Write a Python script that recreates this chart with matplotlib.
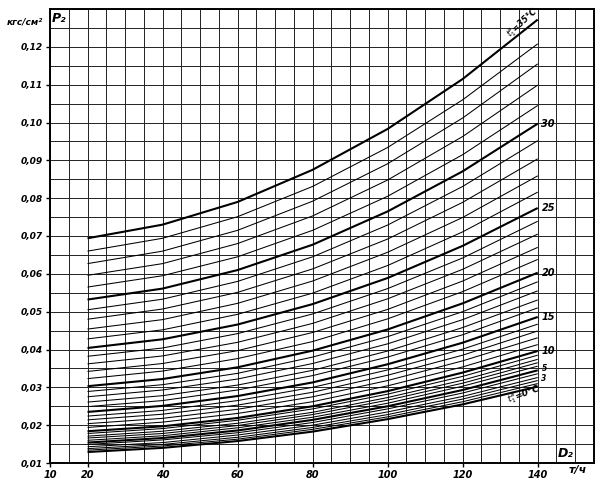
import numpy as np
import matplotlib.pyplot as plt

# flow D2 (t/h) where each curve was read, and curve temperatures t1 (deg C)
flow = [20, 40, 60, 80, 100, 120, 140]
temps = list(range(36))

# pressure p2 (kgf/cm2) for t1 = 0..35, one list per flow value
p_20 = [0.0129, 0.0134, 0.0138, 0.0143, 0.0149, 0.0154, 0.0160, 0.0166, 0.0171, 0.0178,
        0.0184, 0.0194, 0.0204, 0.0214, 0.0224, 0.0235, 0.0249, 0.0261, 0.0275, 0.0289,
        0.0303, 0.0323, 0.0342, 0.0362, 0.0382, 0.0404, 0.0428, 0.0454, 0.0480, 0.0505,
        0.0532, 0.0565, 0.0596, 0.0627, 0.0660, 0.0694]
p_40 = [0.0140, 0.0145, 0.0149, 0.0154, 0.0161, 0.0166, 0.0172, 0.0178, 0.0184, 0.0191,
        0.0197, 0.0208, 0.0218, 0.0229, 0.0239, 0.0251, 0.0265, 0.0278, 0.0293, 0.0307,
        0.0322, 0.0343, 0.0363, 0.0383, 0.0404, 0.0427, 0.0452, 0.0479, 0.0507, 0.0533,
        0.0561, 0.0595, 0.0627, 0.0660, 0.0694, 0.0730]
p_60 = [0.0158, 0.0163, 0.0168, 0.0174, 0.0180, 0.0186, 0.0193, 0.0199, 0.0205, 0.0213,
        0.0219, 0.0231, 0.0242, 0.0253, 0.0265, 0.0277, 0.0293, 0.0306, 0.0322, 0.0337,
        0.0353, 0.0376, 0.0397, 0.0419, 0.0442, 0.0466, 0.0493, 0.0522, 0.0551, 0.0580,
        0.0610, 0.0645, 0.0680, 0.0715, 0.0751, 0.0790]
p_80 = [0.0183, 0.0189, 0.0194, 0.0200, 0.0207, 0.0214, 0.0221, 0.0228, 0.0234, 0.0243,
        0.0250, 0.0262, 0.0275, 0.0287, 0.0300, 0.0313, 0.0331, 0.0345, 0.0363, 0.0380,
        0.0397, 0.0421, 0.0445, 0.0469, 0.0494, 0.0520, 0.0549, 0.0581, 0.0613, 0.0645,
        0.0677, 0.0715, 0.0753, 0.0792, 0.0831, 0.0875]
p_100 = [0.0216, 0.0222, 0.0228, 0.0235, 0.0243, 0.0250, 0.0258, 0.0266, 0.0273, 0.0282,
         0.0290, 0.0304, 0.0318, 0.0332, 0.0346, 0.0361, 0.0380, 0.0396, 0.0415, 0.0434,
         0.0453, 0.0481, 0.0506, 0.0534, 0.0561, 0.0589, 0.0622, 0.0657, 0.0692, 0.0729,
         0.0765, 0.0805, 0.0848, 0.0891, 0.0934, 0.0983]
p_120 = [0.0255, 0.0262, 0.0269, 0.0276, 0.0285, 0.0293, 0.0303, 0.0311, 0.0319, 0.0329,
         0.0339, 0.0354, 0.0370, 0.0385, 0.0401, 0.0418, 0.0439, 0.0458, 0.0479, 0.0500,
         0.0522, 0.0553, 0.0581, 0.0612, 0.0642, 0.0674, 0.0711, 0.0749, 0.0789, 0.0831,
         0.0871, 0.0915, 0.0963, 0.1012, 0.1060, 0.1115]
p_140 = [0.0302, 0.0310, 0.0318, 0.0326, 0.0336, 0.0345, 0.0356, 0.0365, 0.0374, 0.0385,
         0.0396, 0.0413, 0.0431, 0.0449, 0.0467, 0.0486, 0.0510, 0.0531, 0.0555, 0.0579,
         0.0603, 0.0638, 0.0670, 0.0705, 0.0739, 0.0774, 0.0816, 0.0859, 0.0904, 0.0952,
         0.0997, 0.1045, 0.1099, 0.1155, 0.1208, 0.1272]

bold_temps = [0, 5, 10, 15, 20, 25, 30, 35]
end_label_temps = [30, 25, 20, 15, 10]
end_labels = ['30', '25', '20', '15', '10']

x_ticks = [10, 20, 40, 60, 80, 100, 120, 140]
y_ticks = [0.01, 0.02, 0.03, 0.04, 0.05, 0.06, 0.07, 0.08, 0.09, 0.10, 0.11, 0.12]
y_tick_labels = ['0,01', '0,02', '0,03', '0,04', '0,05', '0,06',
                 '0,07', '0,08', '0,09', '0,10', '0,11', '0,12']

font = dict(fontweight='bold', fontstyle='italic', family='DejaVu Sans')
plt.rcParams['mathtext.fontset'] = 'dejavusans'

fig = plt.figure(figsize=(6.04, 4.88), dpi=100)
ax = fig.add_axes([50 / 604, 25 / 488, 544 / 604, 454 / 488])

columns = [p_20, p_40, p_60, p_80, p_100, p_120, p_140]
for i, t in enumerate(temps):
    vals = [col[i] for col in columns]
    lw = 1.5 if t in bold_temps else 0.75
    ax.plot(flow, vals, color='black', lw=lw, solid_capstyle='butt',
            solid_joinstyle='round', zorder=3)

ax.set_xlim(10, 155)
ax.set_ylim(0.01, 0.13)

# grid every 5 t/h and every 0.005 kgf/cm2
ax.set_xticks(x_ticks)
ax.set_xticklabels([str(v) for v in x_ticks], fontsize=7, **font)
ax.set_xticks(np.arange(10, 155.1, 5), minor=True)
ax.set_yticks(y_ticks)
ax.set_yticklabels(y_tick_labels, fontsize=6.5, **font)
ax.set_yticks(np.arange(0.01, 0.1301, 0.005), minor=True)
ax.tick_params(which='major', direction='out', length=3, width=1, pad=2)
ax.tick_params(which='minor', length=0)
ax.grid(which='both', color='#222222', lw=0.7)
for s in ax.spines.values():
    s.set_linewidth(1.4)

# curve labels at the right end
for t, lab in zip(end_label_temps, end_labels):
    ax.text(141, p_140[t], lab, fontsize=7, ha='left', va='center', **font)
ax.text(141, p_140[5] + 0.0006, '5', fontsize=5.5, ha='left', va='center', **font)
ax.text(141, p_140[3] - 0.0002, '3', fontsize=5.5, ha='left', va='center', **font)
ax.text(136, 0.1262, r'$t_1^{в}$=35°C', rotation=42, fontsize=6,
        ha='center', va='center', fontweight='bold', fontstyle='italic')
ax.text(136.5, 0.0281, r'$t_1^{в}$=0°C', rotation=20, fontsize=6.5,
        ha='center', va='center', fontweight='bold', fontstyle='italic')

ax.text(12.5, 0.1275, 'P₂', fontsize=9, ha='center', va='center', **font)
ax.text(147.5, 0.0125, 'D₂', fontsize=9, ha='center', va='center', **font)
fig.text(578 / 604, 1 - 470 / 488, 'т/ч', fontsize=8, ha='center', va='center', **font)
fig.text(25 / 604, 1 - 22 / 488, 'кгс/см²', fontsize=6.5, ha='center', va='center', **font)

fig.savefig('out.png', dpi=100)
